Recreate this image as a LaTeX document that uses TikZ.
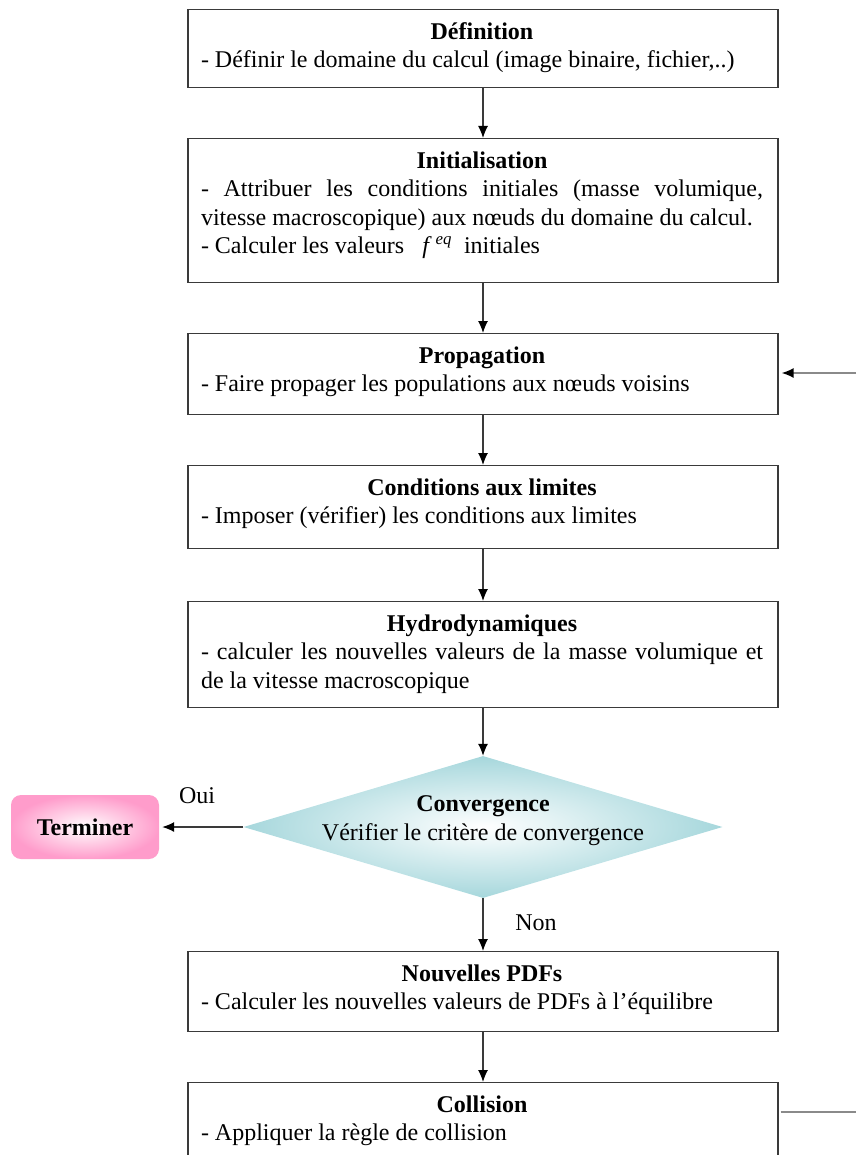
\documentclass[tikz,border=0pt]{standalone}
\usepackage{fontspec}
\setmainfont{Liberation Serif}
\usetikzlibrary{shapes.geometric,arrows.meta,calc}
\definecolor{boxline}{HTML}{3A3A3A}
\definecolor{dia}{HTML}{A6D7DC}
\definecolor{pinkc}{HTML}{FF9CCB}
\definecolor{greyline}{HTML}{8A8A8A}
\begin{document}
\begin{tikzpicture}[x=1pt,y=-1pt,
  font=\fontsize{24}{28.5}\selectfont,
  stepbox/.style={draw=boxline, line width=1.3pt, minimum width=590pt, inner sep=0pt, anchor=north},
  boxtext/.style={anchor=north, text width=562pt, inner sep=0pt, align=justify},
  flow/.style={draw=boxline, line width=1.2pt, -{Latex[length=12pt,width=10pt,black]}},
  side/.style={draw=greyline, line width=1.5pt},
  lbl/.style={inner sep=0pt, anchor=base}]
\useasboundingbox (0,0) rectangle (856,1155);
\clip (0,0) rectangle (856,1155);

% boxes
\node[stepbox, minimum height=78pt] (def) at (483,9) {};
\node[boxtext] (deft) at (482,19) {{\centering\strut\textbf{Définition}\par}- Définir le domaine du calcul (image binaire, fichier,..)};

\node[stepbox, minimum height=144pt] (init) at (483,138) {};
\node[boxtext] (initt) at (482,148) {{\centering\strut\textbf{Initialisation}\par}- Attribuer les conditions initiales (masse volumique,\linebreak vitesse macroscopique) aux nœuds du domaine du calcul.\par
- Calculer les valeurs \enspace\textit{f}\,\textsuperscript{\textit{eq}}\enspace initiales};

\node[stepbox, minimum height=81pt] (prop) at (483,333) {};
\node[boxtext] (propt) at (482,343) {{\centering\strut\textbf{Propagation}\par}- Faire propager les populations aux nœuds voisins};

\node[stepbox, minimum height=83pt] (cond) at (483,465) {};
\node[boxtext] (condt) at (482,475) {{\centering\strut\textbf{Conditions aux limites}\par}- Imposer (vérifier) les conditions aux limites};

\node[stepbox, minimum height=106pt] (hyd) at (483,601) {};
\node[boxtext] (hydt) at (482,611) {{\centering\strut\textbf{Hydrodynamiques}\par}- calculer les nouvelles valeurs de la masse volumique et\linebreak de la vitesse macroscopique};

\node[diamond, shading=radial, inner color=white, outer color=dia, minimum width=479pt, minimum height=142pt, inner sep=0pt] (conv) at (483,827) {};
\node[lbl] (convt1) at (483,811) {\textbf{Convergence}};
\node[lbl] (convt2) at (483,840) {Vérifier le critère de convergence};

\node[rounded corners=10pt, shading=radial, inner color=white, outer color=pinkc, minimum width=148pt, minimum height=64pt, inner sep=0pt] (term) at (85,827) {\textbf{Terminer}};

\node[stepbox, minimum height=80pt] (nouv) at (483,951) {};
\node[boxtext] (nouvt) at (482,961) {{\centering\strut\textbf{Nouvelles PDFs}\par}- Calculer les nouvelles valeurs de PDFs à l’équilibre};

\node[stepbox, minimum height=130pt] (coll) at (483,1082) {};
\node[boxtext] (collt) at (482,1092) {{\centering\strut\textbf{Collision}\par}- Appliquer la règle de collision};

% labels
\node[lbl] (oui) at (197,803) {Oui};
\node[lbl] (non) at (536,930) {Non};

% connectors
\draw[flow] (def.south) -- (init.north);
\draw[flow] (init.south) -- (prop.north);
\draw[flow] (prop.south) -- (cond.north);
\draw[flow] (cond.south) -- (hyd.north);
\draw[flow] (hyd.south) -- (conv.north);
\draw[flow, shorten >=3pt] (conv.west) -- (term.east);
\draw[flow] (conv.south) -- (nouv.north);
\draw[flow] (nouv.south) -- (coll.north);

\coordinate (pin) at (856,373);
\draw[side, -{Latex[length=12pt,width=10pt,black]}, shorten >=3pt] (pin) -- (pin -| prop.east);
\coordinate (cout) at (856,1112);
\draw[side, shorten <=2pt] (cout -| coll.east) -- (cout);
\end{tikzpicture}
\end{document}
